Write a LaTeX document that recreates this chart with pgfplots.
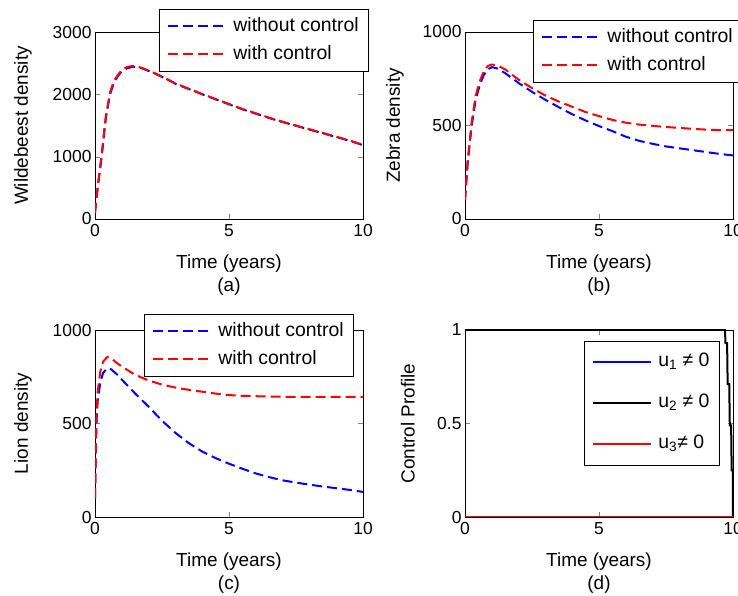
\documentclass[border=0pt]{standalone}
\usepackage{fontspec}
\setmainfont{Liberation Sans}
\usepackage{pgfplots}
\pgfplotsset{compat=1.18}
\pgfplotsset{
 myax/.style={
  scale only axis, width=268bp, height=187bp,
  xmin=0, xmax=10, xtick={0,5,10},
  tick align=inside, major tick length=5bp,
  /pgf/number format/assume math mode=true,
  /pgf/number format/1000 sep={},
  scaled y ticks=false,
  ticklabel style={font=\fontsize{17.5}{20}\selectfont},
  xticklabel style={yshift=-2bp},
  label style={font=\fontsize{19}{24}\selectfont},
  xlabel style={at={(axis description cs:0.5,-0.30)}, anchor=center, align=center},
  legend style={draw=black, fill=white, line width=0.8bp, font=\fontsize{19.5}{22}\selectfont,
    inner xsep=8bp, inner ysep=6bp, row sep=6bp,
    nodes={inner sep=2bp, text height=14bp, text depth=4bp},
    /tikz/every odd column/.append style={column sep=4bp}},
  legend cell align=left,
  legend image code/.code={\draw[##1] (0bp,0bp) -- (58bp,0bp);},
  axis line style={line width=0.8bp},
  every axis plot/.append style={line width=2bp},
 },
 dsh/.style={dash pattern=on 10bp off 5bp},
}
\begin{document}
\begin{tikzpicture}
\useasboundingbox (0,0) rectangle (738bp,596bp);
% (a)
\begin{axis}[myax, at={(95bp,377bp)}, anchor=south west,
  ymin=0, ymax=3000, ytick={0,1000,2000,3000},
  ylabel={Wildebeest density}, ylabel style={at={(axis description cs:-0.269,0.5)}, anchor=center},
  xlabel={Time (years)\\(a)},
  legend style={at={(axis description cs:0.239,1.123)}, anchor=north west}]
\addplot[blue, dsh] coordinates {(0,100)(0.1,500)(0.25,1000)(0.4,1600)(0.56,2000)(0.7,2180)(0.85,2290)(1.0,2370)(1.2,2420)(1.4,2440)(1.6,2435)(1.8,2410)(2.2,2340)(2.6,2260)(3,2170)(3.5,2085)(4,2000)(4.5,1920)(5,1840)(5.5,1760)(6,1690)(6.5,1620)(7,1555)(7.5,1495)(8,1435)(8.5,1375)(9,1315)(9.5,1255)(10,1185)};
\addlegendentry{without control}
\addplot[red, dsh] coordinates {(0,100)(0.1,520)(0.25,1040)(0.4,1640)(0.56,2030)(0.7,2210)(0.85,2310)(1.0,2390)(1.2,2440)(1.4,2455)(1.6,2445)(1.8,2415)(2.2,2345)(2.6,2265)(3,2175)(3.5,2090)(4,2005)(4.5,1925)(5,1845)(5.5,1765)(6,1695)(6.5,1625)(7,1560)(7.5,1500)(8,1440)(8.5,1380)(9,1320)(9.5,1260)(10,1190)};
\addlegendentry{with control}
\end{axis}
% (b)
\begin{axis}[myax, at={(465bp,377bp)}, anchor=south west,
  ymin=0, ymax=1000, ytick={0,500,1000},
  ylabel={Zebra density}, ylabel style={at={(axis description cs:-0.261,0.5)}, anchor=center},
  xlabel={Time (years)\\(b)},
  legend style={at={(axis description cs:0.254,1.064)}, anchor=north west}]
\addplot[blue, dsh] coordinates {(0,100)(0.1,300)(0.25,500)(0.4,640)(0.56,720)(0.7,770)(0.85,800)(1.0,812)(1.2,805)(1.5,780)(2,727)(2.5,680)(3,637)(3.5,598)(4,560)(4.5,527)(5,497)(5.5,470)(6,440)(6.5,418)(7,402)(7.5,388)(8,378)(8.5,368)(9,358)(9.5,348)(10,340)};
\addlegendentry{without control}
\addplot[red, dsh] coordinates {(0,100)(0.1,310)(0.25,520)(0.4,660)(0.56,740)(0.7,790)(0.85,818)(1.0,826)(1.2,822)(1.5,800)(2,745)(2.5,700)(3,660)(3.5,628)(4,600)(4.5,572)(5,550)(5.5,530)(6,515)(6.5,505)(7,498)(7.5,492)(8,487)(8.5,482)(9,478)(9.5,475)(10,475)};
\addlegendentry{with control}
\end{axis}
% (c)
\begin{axis}[myax, at={(95bp,79bp)}, anchor=south west,
  ymin=0, ymax=1000, ytick={0,500,1000},
  ylabel={Lion density}, ylabel style={at={(axis description cs:-0.269,0.5)}, anchor=center},
  xlabel={Time (years)\\(c)},
  legend style={at={(axis description cs:0.183,1.086)}, anchor=north west}]
\addplot[blue, dsh] coordinates {(0,100)(0.03,350)(0.06,520)(0.1,620)(0.2,720)(0.3,770)(0.45,795)(0.6,790)(0.8,765)(1,735)(1.5,660)(2,590)(2.5,515)(3,450)(3.5,395)(4,350)(4.5,315)(5,285)(5.5,258)(6,233)(6.5,213)(7,196)(7.5,184)(8,173)(8.5,163)(9,154)(9.5,145)(10,134)};
\addlegendentry{without control}
\addplot[red, dsh] coordinates {(0,100)(0.03,380)(0.06,560)(0.1,670)(0.2,780)(0.3,830)(0.45,855)(0.6,850)(0.8,825)(1,805)(1.5,760)(2,730)(2.5,708)(3,692)(3.5,680)(4,670)(4.5,660)(5,652)(5.5,648)(6,646)(6.5,644)(7,643)(8,642)(9,642)(10,642)};
\addlegendentry{with control}
\end{axis}
% (d)
\begin{axis}[myax, at={(465bp,79bp)}, anchor=south west,
  ymin=0, ymax=1, ytick={0,0.5,1},
  ylabel={Control Profile}, ylabel style={at={(axis description cs:-0.213,0.5)}, anchor=center},
  xlabel={Time (years)\\(d)},
  legend style={at={(axis description cs:0.444,0.941)}, anchor=north west, row sep=17bp, inner ysep=9bp,
    nodes={inner sep=2bp, text height=14bp, text depth=6bp}}]
\addplot[blue] coordinates {(0,0)(10,0)};
\addlegendentry{u\textsubscript{1} ≠ 0}
\addplot[black] coordinates {(0,1)(9.7,1)(9.72,0.93)(9.78,0.93)(9.8,0.71)(9.86,0.71)(9.88,0.49)(9.93,0.49)(9.95,0.25)(9.99,0.25)(10,0)};
\addlegendentry{u\textsubscript{2} ≠ 0}
\addplot[red] coordinates {(0,0)(10,0)};
\addlegendentry{u\textsubscript{3}≠ 0}
\end{axis}
\end{tikzpicture}
\end{document}
